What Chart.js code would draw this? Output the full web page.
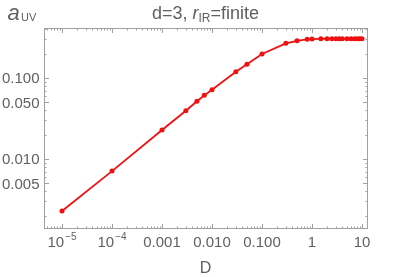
<!DOCTYPE html>
<html>
<head>
<meta charset="utf-8">
<script src="https://cdn.jsdelivr.net/npm/chart.js@4.4.1/dist/chart.umd.min.js"></script>
<style>
    html, body { margin:0; padding:0; background:#fff; }
    #wrap { width:407px; height:277px; }
</style>
</head>
<body>
<div id="wrap"><canvas id="chart" width="407" height="277"></canvas></div>
<script>
// values
const dValues = [1e-5, 1e-4, 0.001, 0.003, 0.005, 0.007, 0.01, 0.03, 0.05, 0.1, 0.3, 0.5, 0.8, 1,
                 1.5, 2, 2.5, 3, 3.5, 4, 5, 6, 7, 8, 9, 10];
const aValues = [0.00228, 0.0071, 0.0228, 0.0394, 0.0516, 0.0611, 0.0717, 0.1197, 0.1476, 0.198, 0.268, 0.288, 0.300, 0.302,
                 0.304, 0.305, 0.305, 0.305, 0.305, 0.305, 0.305, 0.305, 0.305, 0.305, 0.305, 0.305];

const xTickValues = [1e-5, 1e-4, 0.001, 0.01, 0.1, 1, 10];
const xTickLabels = [["10","\u22125"], ["10","\u22124"], ["0.001"], ["0.010"], ["0.100"], ["1"], ["10"]];
const yTickValues = [0.1, 0.05, 0.01, 0.005];
const yTickLabels = ["0.100", "0.050", "0.010", "0.005"];

const FONT = "'Liberation Sans', Arial, sans-serif";
const LABEL = "#606060";
const FRAME = "#a0a0a0";
const RED = "#f01010";

// frame, inside ticks and all the text
const framePlugin = {
    id:"frame",
    afterDraw(chart){
        const {ctx, chartArea:a, scales:{x, y}} = chart;
        ctx.save();

        ctx.strokeStyle = FRAME;
        ctx.lineWidth = 1;
        ctx.strokeRect(Math.round(a.left)+0.5, Math.round(a.top)+0.5,
                       Math.round(a.right-a.left)-1, Math.round(a.bottom-a.top)-1);

        ctx.beginPath();
        for(let k=-6;k<=1;k++){
            for(let m=1;m<=9;m++){
                const v = m*Math.pow(10,k);
                if(v < x.min || v > x.max) continue;
                const px = Math.round(x.getPixelForValue(v))+0.5;
                const len = m===1 ? 5 : 2.5;
                ctx.moveTo(px, a.bottom); ctx.lineTo(px, a.bottom-len);
                ctx.moveTo(px, a.top); ctx.lineTo(px, a.top+len);
            }
        }
        for(let k=-4;k<=0;k++){
            for(let m=1;m<=9;m++){
                const v = m*Math.pow(10,k);
                if(v < y.min || v > y.max) continue;
                const py = Math.round(y.getPixelForValue(v))+0.5;
                const len = (m===1 || m===5) ? 5 : 2.5;
                ctx.moveTo(a.left, py); ctx.lineTo(a.left+len, py);
                ctx.moveTo(a.right, py); ctx.lineTo(a.right-len, py);
            }
        }
        ctx.stroke();

        ctx.fillStyle = LABEL;
        ctx.textBaseline = "alphabetic";

        // y tick labels
        ctx.font = "15px "+FONT;
        ctx.textAlign = "right";
        yTickValues.forEach((v,i)=>{
            ctx.fillText(yTickLabels[i], a.left-4.5, y.getPixelForValue(v)+5.3);
        });

        // x tick labels (with superscript exponents)
        ctx.textAlign = "left";
        xTickValues.forEach((v,i)=>{
            const [base, sup] = xTickLabels[i];
            const px = x.getPixelForValue(v);
            ctx.font = "15px "+FONT;
            const wb = ctx.measureText(base).width;
            let ws = 0;
            if(sup){ ctx.font = "10px "+FONT; ws = ctx.measureText(sup).width + 1; }
            const left = px-(wb+ws)/2;
            ctx.font = "15px "+FONT;
            ctx.fillText(base, left, a.bottom+18);
            if(sup){
                ctx.font = "10px "+FONT;
                ctx.fillText(sup, left+wb+1, a.bottom+11);
            }
        });

        // x title
        ctx.font = "16px "+FONT;
        ctx.textAlign = "center";
        ctx.fillText("D", 205.5, 273);

        // y title a_UV
        ctx.textAlign = "left";
        ctx.font = "italic 22px "+FONT;
        ctx.fillText("a", 7.5, 19.5);
        ctx.font = "11px "+FONT;
        ctx.fillText("UV", 21, 21);

        // plot title d=3, r_IR=finite
        const parts = [
            {t:"d=3, ", f:"18px "+FONT, dy:0},
            {t:"r", f:"italic 18px "+FONT, dy:0},
            {t:"IR", f:"12px "+FONT, dy:3},
            {t:"=finite", f:"18px "+FONT, dy:0}
        ];
        let total = 0;
        parts.forEach(p=>{ ctx.font=p.f; p.w=ctx.measureText(p.t).width; total+=p.w; });
        let cx = 205.5-total/2;
        parts.forEach(p=>{ ctx.font=p.f; ctx.fillText(p.t, cx, 18.5+p.dy); cx+=p.w; });

        ctx.restore();
    }
};

const ctx = document.getElementById("chart").getContext("2d");

new Chart(ctx,{
    type:"line",
    data:{
        datasets:[{
            data:dValues.map((d,i)=>({x:d, y:aValues[i]})),
            borderColor:RED,
            backgroundColor:RED,
            borderWidth:1.8,
            pointRadius:2.5,
            pointBorderWidth:0,
            pointHoverRadius:2.5,
            tension:0,
            fill:false
        }]
    },
    options:{
        responsive:false,
        animation:false,
        events:[],
        layout:{padding:{left:44, top:28, right:39, bottom:48}},
        plugins:{legend:{display:false}, tooltip:{enabled:false}, title:{display:false}},
        scales:{
            x:{
                type:"logarithmic",
                min:Math.pow(10,-5.36),
                max:Math.pow(10,1.12),
                ticks:{display:false},
                grid:{display:false},
                border:{display:false},
                afterFit:s=>{ s.height = 0; }
            },
            y:{
                type:"logarithmic",
                min:0.00137,
                max:0.414,
                ticks:{display:false},
                grid:{display:false},
                border:{display:false},
                afterFit:s=>{ s.width = 0; }
            }
        }
    },
    plugins:[framePlugin]
});
</script>
</body>
</html>
